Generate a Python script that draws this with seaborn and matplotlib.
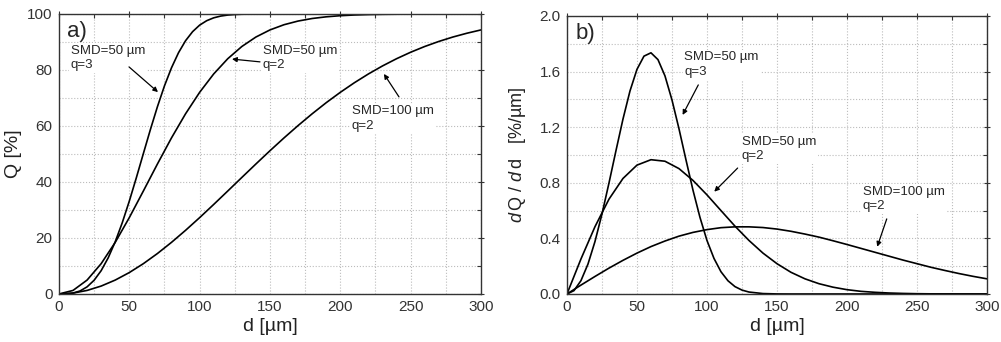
import matplotlib
matplotlib.use("Agg")
import matplotlib.pyplot as plt
import seaborn as sns
from matplotlib.ticker import MultipleLocator, FormatStrFormatter

sns.set_theme(style="white")
plt.rcParams['font.family'] = ['Liberation Sans', 'DejaVu Sans']
plt.rcParams['mathtext.fontset'] = 'custom'
plt.rcParams['mathtext.it'] = 'Liberation Sans:italic'
plt.rcParams['mathtext.rm'] = 'Liberation Sans'

# diameters [um]
d_fine = [0, 5, 10, 15, 20, 25, 30, 35, 40, 45, 50, 55, 60, 65, 70, 75, 80, 85, 90,
          95, 100, 105, 110, 115, 120, 125, 130, 140, 150, 160, 200, 250, 300]
d_coarse = list(range(0, 301, 10))

# SMD=50 um, q=3
Q_50_q3 = [0, 0.04, 0.32, 1.08, 2.55, 4.91, 8.33, 12.91, 18.65, 25.45, 33.16, 41.50, 50.15,
           58.73, 66.89, 74.33, 80.79, 86.18, 90.46, 93.69, 96.02, 97.60, 98.63, 99.26,
           99.62, 99.81, 99.92, 99.99, 100, 100, 100, 100, 100]
f_50_q3 = [0, 0.024, 0.096, 0.215, 0.377, 0.575, 0.798, 1.031, 1.258, 1.460, 1.616, 1.711,
           1.735, 1.686, 1.569, 1.396, 1.189, 0.965, 0.747, 0.551, 0.385, 0.256, 0.160,
           0.095, 0.053, 0.028, 0.014, 0.003, 0.0004, 0, 0, 0, 0]

# SMD=50 um, q=2
Q_50_q2 = [0, 1.27, 4.97, 10.83, 18.44, 27.27, 36.78, 46.43, 55.75, 64.36, 72.02, 78.59,
           84.03, 88.39, 91.77, 94.31, 96.17, 97.48, 98.39, 98.99, 99.39, 99.64, 99.79,
           99.88, 99.93, 99.97, 99.98, 99.99, 100, 100, 100]
f_50_q2 = [0, 0.252, 0.484, 0.682, 0.831, 0.927, 0.966, 0.955, 0.902, 0.817, 0.713, 0.600,
           0.488, 0.385, 0.294, 0.218, 0.156, 0.109, 0.074, 0.049, 0.031, 0.019, 0.012,
           0.007, 0.004, 0.002, 0.001, 0.0006, 0.0003, 0.0001, 0.0001]

# SMD=100 um, q=2
Q_100_q2 = [0, 0.32, 1.27, 2.83, 4.97, 7.65, 10.83, 14.45, 18.44, 22.74, 27.27, 31.98,
            36.78, 41.62, 46.43, 51.16, 55.75, 60.16, 64.36, 68.33, 72.02, 75.45, 78.59,
            81.45, 84.03, 86.34, 88.39, 90.19, 91.77, 93.13, 94.31]
f_100_q2 = [0, 0.064, 0.126, 0.186, 0.242, 0.294, 0.341, 0.381, 0.416, 0.443, 0.463, 0.477,
            0.483, 0.483, 0.478, 0.467, 0.451, 0.431, 0.409, 0.383, 0.356, 0.328, 0.300,
            0.272, 0.244, 0.218, 0.192, 0.169, 0.147, 0.127, 0.109]

fig, (ax1, ax2) = plt.subplots(1, 2, figsize=(10.01, 3.42), dpi=100)
ax1.set_position([0.0589, 0.1404, 0.4216, 0.8187])
ax2.set_position([0.5664, 0.1404, 0.4196, 0.8129])

lw = 1.2
for ax, ys in [(ax1, [Q_50_q3, Q_50_q2, Q_100_q2]), (ax2, [f_50_q3, f_50_q2, f_100_q2])]:
    sns.lineplot(x=d_fine, y=ys[0], ax=ax, color='black', lw=lw)
    sns.lineplot(x=d_coarse, y=ys[1], ax=ax, color='black', lw=lw)
    sns.lineplot(x=d_coarse, y=ys[2], ax=ax, color='black', lw=lw)

ax1.set_xlim(0, 300)
ax1.set_ylim(0, 100)
ax1.xaxis.set_major_locator(MultipleLocator(50))
ax1.xaxis.set_minor_locator(MultipleLocator(25))
ax1.yaxis.set_major_locator(MultipleLocator(20))
ax1.yaxis.set_minor_locator(MultipleLocator(10))

ax2.set_xlim(0, 300)
ax2.set_ylim(0, 2.0)
ax2.xaxis.set_major_locator(MultipleLocator(50))
ax2.xaxis.set_minor_locator(MultipleLocator(25))
ax2.yaxis.set_major_locator(MultipleLocator(0.4))
ax2.yaxis.set_minor_locator(MultipleLocator(0.2))
ax2.yaxis.set_major_formatter(FormatStrFormatter('%.1f'))

for ax in (ax1, ax2):
    ax.grid(True, which='both', color='#bcbcbc', linestyle=':', linewidth=0.8)
    ax.set_axisbelow(True)
    for s in ax.spines.values():
        s.set_color('#333333')
        s.set_linewidth(1.0)
    ax.tick_params(which='major', direction='inout', length=5, width=0.8, labelsize=11,
                   top=True, right=True, colors='#333333', labelcolor='#333333', pad=2)
    ax.tick_params(which='minor', direction='in', length=3, width=0.8,
                   top=True, right=True, colors='#333333')
    ax.set_xlabel('d [µm]', fontsize=14, labelpad=3, color='#222222')

ax1.set_ylabel('Q [%]', fontsize=14, labelpad=4, color='#222222')
ax2.set_ylabel(r'$d\,$Q / $d\,$d   [%/µm]', fontsize=13, labelpad=8, color='#222222')

ax1.text(0.02, 0.975, 'a)', transform=ax1.transAxes, fontsize=16, va='top', ha='left')
ax2.text(0.02, 0.975, 'b)', transform=ax2.transAxes, fontsize=16, va='top', ha='left')

box = dict(facecolor='white', edgecolor='none', pad=1)
arrow = dict(arrowstyle='-|>', color='black', lw=0.9, mutation_scale=7, shrinkA=0, shrinkB=0)

# panel a annotations
ax1.text(8.5, 89, 'SMD=50 µm\nq=3', fontsize=9.5, va='top', ha='left', bbox=box, linespacing=1.3)
ax1.annotate('', xy=(70.4, 72.1), xytext=(49.8, 81.1), arrowprops=arrow)
ax1.text(145, 89, 'SMD=50 µm\nq=2', fontsize=9.5, va='top', ha='left', bbox=box, linespacing=1.3)
ax1.annotate('', xy=(123, 83.9), xytext=(142.9, 82.9), arrowprops=arrow)
ax1.text(208, 67.5, 'SMD=100 µm\nq=2', fontsize=9.5, va='top', ha='left', bbox=box, linespacing=1.3)
ax1.annotate('', xy=(231, 78.6), xytext=(241.7, 70.4), arrowprops=arrow)

# panel b annotations
ax2.text(83.8, 1.745, 'SMD=50 µm\nq=3', fontsize=9.5, va='top', ha='left', bbox=box, linespacing=1.3)
ax2.annotate('', xy=(82.6, 1.288), xytext=(93.8, 1.504), arrowprops=arrow)
ax2.text(124.8, 1.14, 'SMD=50 µm\nq=2', fontsize=9.5, va='top', ha='left', bbox=box, linespacing=1.3)
ax2.annotate('', xy=(105.2, 0.736), xytext=(121.9, 0.906), arrowprops=arrow)
ax2.text(211.2, 0.78, 'SMD=100 µm\nq=2', fontsize=9.5, va='top', ha='left', bbox=box, linespacing=1.3)
ax2.annotate('', xy=(221.6, 0.34), xytext=(228.4, 0.54), arrowprops=arrow)

fig.savefig('out.png', dpi=100)
